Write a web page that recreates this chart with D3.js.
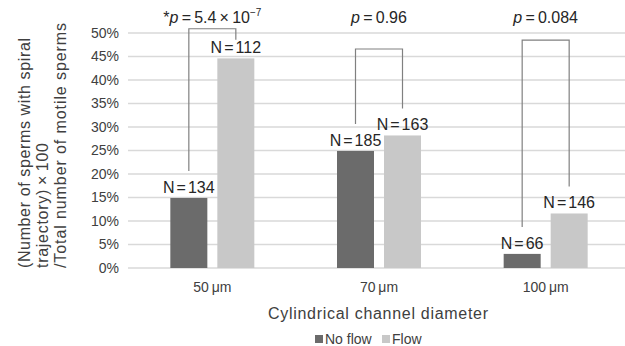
<!DOCTYPE html>
<html>
<head>
<meta charset="utf-8">
<script src="https://cdn.jsdelivr.net/npm/d3@7"></script>
<style>
  body { margin: 0; background: #fff; }
  svg { display: block; font-family: Arial, "Liberation Sans", sans-serif; }
</style>
</head>
<body>
<div id="chart"></div>
<script>
// data
const categories = ['50', '70', '100']
const series = ['No flow', 'Flow']
const noFlow = [14.9, 24.9, 3.0]
const flow = [44.6, 28.2, 11.6]
const noFlowN = [134, 185, 66]
const flowN = [112, 163, 146]
const pLabels = ['5.4', '0.96', '0.084'] // first one is 5.4 x 10^-7
const bracketTop = [50.9, 46.6, 48.5]
const yTicks = [0, 5, 10, 15, 20, 25, 30, 35, 40, 45, 50]

const width = 625
const height = 346
const margin = { top: 33, left: 129, right: -4, bottom: 78 }
const colors = ['#6b6b6b', '#c8c8c8']

const svg = d3.select('#chart').append('svg').attr('width', width).attr('height', height)

const x = d3.scaleBand().domain(categories).range([margin.left, width - margin.right]).padding(0)
const groupW = 84
const x1 = d3.scaleBand().domain(series)
	.range([x.bandwidth() / 2 - groupW / 2, x.bandwidth() / 2 + groupW / 2])
	.paddingInner(10 / 47).paddingOuter(0)
const y = d3.scaleLinear().domain([0, 50]).range([height - margin.bottom, margin.top])

// grid
svg.append('g')
	.selectAll('line')
	.data(yTicks)
	.join('line')
	.attr('x1', margin.left - 1)
	.attr('x2', width)
	.attr('y1', d => y(d))
	.attr('y2', d => y(d))
	.attr('stroke', '#d9d9d9')
	.attr('stroke-width', 1.3)

// y tick labels
svg.append('g')
	.selectAll('text')
	.data(yTicks)
	.join('text')
	.attr('x', 119)
	.attr('y', d => y(d))
	.attr('dy', '0.35em')
	.attr('text-anchor', 'end')
	.attr('font-size', 14)
	.attr('fill', '#404040')
	.text(d => d + '%')

// bars
const rows = categories.map((c, i) => ({ cat: c, i, vals: [noFlow[i], flow[i]], ns: [noFlowN[i], flowN[i]] }))
const groups = svg.append('g')
	.selectAll('g')
	.data(rows)
	.join('g')
	.attr('transform', d => `translate(${x(d.cat)},0)`)

groups.selectAll('rect')
	.data(d => d.vals.map((v, j) => ({ s: series[j], v, j })))
	.join('rect')
	.attr('x', d => x1(d.s))
	.attr('width', x1.bandwidth())
	.attr('y', d => y(d.v))
	.attr('height', d => y(0) - y(d.v))
	.attr('fill', d => colors[d.j])

// N labels
const nText = groups.selectAll('text.n')
	.data(d => d.vals.map((v, j) => ({ s: series[j], v, n: d.ns[j] })))
	.join('text')
	.attr('class', 'n')
	.attr('x', d => x1(d.s) + x1.bandwidth() / 2)
	.attr('y', d => y(d.v) - 5)
	.attr('text-anchor', 'middle')
	.attr('font-size', 16)
	.attr('fill', '#262626')
nText.append('tspan').text('N')
nText.append('tspan').attr('dx', 2).text('=')
nText.append('tspan').attr('dx', 2).text(d => d.n)

// brackets
groups.append('path')
	.attr('fill', 'none')
	.attr('stroke', '#808080')
	.attr('stroke-width', 1.2)
	.attr('d', d => {
		const xa = x1(series[0]) + x1.bandwidth() / 2
		const xb = x1(series[1]) + x1.bandwidth() / 2
		const top = y(bracketTop[d.i])
		const ya = y(d.vals[0]) - 27
		const yb = Math.max(y(d.vals[1]) - 27, top + 11)
		return `M${xa},${ya}V${top}H${xb}V${yb}`
	})

// p labels
const pText = groups.append('text')
	.attr('x', x.bandwidth() / 2)
	.attr('y', 23)
	.attr('text-anchor', 'middle')
	.attr('font-size', 16)
	.attr('fill', '#262626')
pText.each(function (d) {
	const t = d3.select(this)
	if (d.i === 0) t.append('tspan').text('*')
	t.append('tspan').attr('font-style', 'italic').text('p')
	t.append('tspan').text('\u2009=\u2009' + pLabels[d.i] + (d.i === 0 ? '\u2009×\u200910' : ''))
	if (d.i === 0) t.append('tspan').attr('font-size', 10).attr('dy', -7).text('−7')
})

// x tick labels
svg.append('g')
	.selectAll('text')
	.data(categories)
	.join('text')
	.attr('x', d => x(d) + x.bandwidth() / 2)
	.attr('y', 292)
	.attr('text-anchor', 'middle')
	.attr('font-size', 14)
	.attr('fill', '#404040')
	.text(d => d + '\u2009μm')

// axis titles
svg.append('text')
	.attr('x', 378)
	.attr('y', 319)
	.attr('text-anchor', 'middle')
	.attr('font-size', 16)
	.attr('fill', '#404040')
	.attr('textLength', 220)
	.attr('lengthAdjust', 'spacing')
	.text('Cylindrical channel diameter')

const yTitle = ['(Number of sperms with spiral', 'trajectory)\u2009×\u2009100', '/Total number of motile sperms']
const yTitleLen = [230, 125, 245]
svg.append('g')
	.attr('transform', 'translate(0,268) rotate(-90)')
	.selectAll('text')
	.data(yTitle)
	.join('text')
	.attr('x', 0)
	.attr('y', (d, i) => 29.5 + i * 18)
	.attr('font-size', 16)
	.attr('fill', '#404040')
	.attr('textLength', (d, i) => yTitleLen[i])
	.attr('lengthAdjust', 'spacing')
	.text(d => d)

// legend
const legend = svg.append('g').attr('transform', 'translate(315,344)')
const li = legend.selectAll('g')
	.data(series)
	.join('g')
	.attr('transform', (d, i) => `translate(${i * 67},0)`)
li.append('rect')
	.attr('y', -9)
	.attr('width', 8)
	.attr('height', 8)
	.attr('fill', (d, i) => colors[i])
li.append('text')
	.attr('x', 10)
	.attr('font-size', 14)
	.attr('fill', '#404040')
	.text(d => d)
</script>
</body>
</html>
